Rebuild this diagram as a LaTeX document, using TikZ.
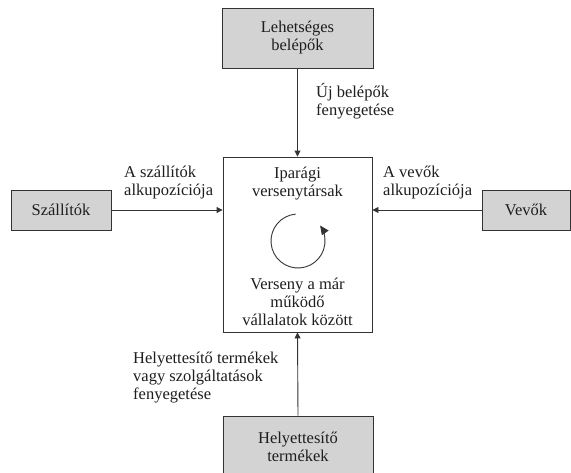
\documentclass[tikz,border=0pt]{standalone}
\usepackage{fontspec}
\setmainfont{Liberation Serif}
\usetikzlibrary{arrows.meta}
\definecolor{boxfill}{HTML}{D3D3D3}
\definecolor{ink}{HTML}{333333}
\definecolor{txt}{HTML}{1E1E1E}
\begin{document}
\begin{tikzpicture}[x=1pt,y=-1pt,
  every node/.style={text=txt, font=\fontsize{16.5}{18}\selectfont},
  forcebox/.style={draw=ink, line width=0.9pt, fill=boxfill, align=center, inner sep=0pt},
  mainbox/.style={draw=ink, line width=0.9pt, fill=white, inner sep=0pt},
  lbl/.style={align=left, inner sep=0pt, anchor=west},
  conn/.style={draw=ink, line width=0.9pt, -{Triangle[length=6pt,width=6pt]}}]
\useasboundingbox (0,0) rectangle (571,472);
\fill[white] (0,0) rectangle (571,472);
% boxes
\node[forcebox, minimum width=151pt, minimum height=60pt] (top) at (297.5,38) {Lehetséges\\belépők};
\node[mainbox, minimum width=149pt, minimum height=175pt] (comp) at (297.5,244.5) {};
\node[forcebox, minimum width=100pt, minimum height=40pt] (sup) at (61,210) {Szállítók};
\node[forcebox, minimum width=88pt, minimum height=40pt] (buy) at (526,210) {Vevők};
\node[forcebox, minimum width=150pt, minimum height=66pt] (sub) at (298,449) {};
\node[align=center, inner sep=0pt] (subtxt) at (298,447) {Helyettesítő\\termékek};
% centre texts
\node[align=center, inner sep=0pt] (rivals) at (297.5,184) {Iparági\\versenytársak};
\node[align=center, inner sep=0pt] (compet) at (297.5,302) {Verseny a már\\működő\\vállalatok között};
% connectors
\draw[conn] (top.south) -- (comp.north);
\draw[conn] (sup.east) -- (sup.east -| comp.west);
\draw[conn] (buy.west) -- (buy.west -| comp.east);
\draw[conn] (sub.north) -- (comp.south);
% labels
\node[lbl] (lnew) at (316,101) {Új belépők\\fenyegetése};
\node[lbl] (lsup) at (124,182.5) {A szállítók\\alkupozíciója};
\node[lbl] (lbuy) at (383,182.5) {A vevők\\alkupozíciója};
\node[lbl] (lsub) at (133,377.5) {Helyettesítő termékek\\vagy szolgáltatások\\fenyegetése};
% rotation arrow
\begin{scope}[shift={(298,241)}, y=1pt]
\draw[draw=ink, line width=0.9pt, -{Triangle[length=9pt,width=8pt]}] (95:27) arc[start angle=95, end angle=395, radius=27pt];
\end{scope}
\end{tikzpicture}
\end{document}
